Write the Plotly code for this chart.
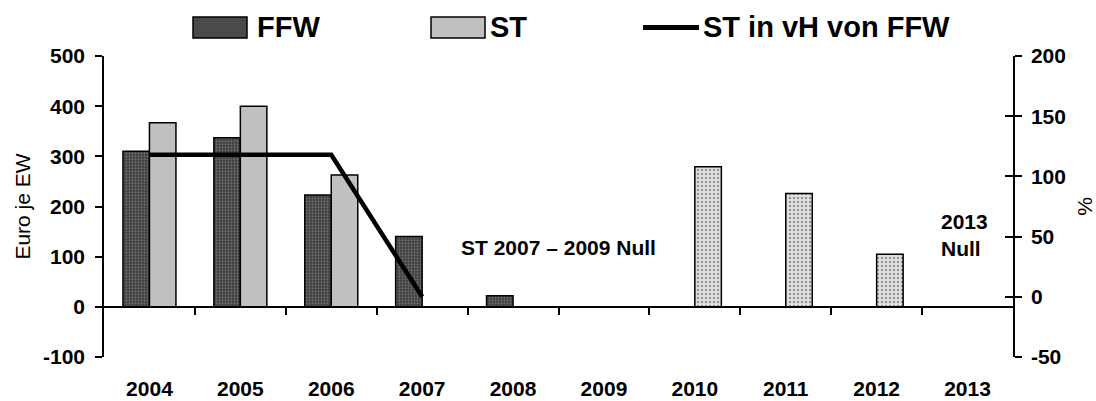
import plotly.graph_objects as go

# ---- data ----
years = ["2004", "2005", "2006", "2007", "2008", "2009", "2010", "2011", "2012", "2013"]
ffw = [310, 337, 223, 140, 22, None, None, None, None, None]          # Euro je EW
st = [367, 400, 263, None, None, None, 279, 226, 105, None]           # Euro je EW
st_pct = [118, 118, 118, 0, None, None, None, None, None, None]       # ST in vH von FFW (%)
left_ticks = [-100, 0, 100, 200, 300, 400, 500]
right_ticks = [-50, 0, 50, 100, 150, 200]

FONT = "Liberation Sans, Arial, sans-serif"
W, H = 1096, 401
L, R, T, B = 104, 83, 56, 44
PW, PH = W - L - R, H - T - B


def px_x(x):
    return (x - L) / PW


def px_y(y):
    return (H - B - y) / PH


st_colors = ["#c0c0c0", "#c0c0c0", "#c0c0c0", "#c0c0c0", "#c0c0c0", "#c0c0c0",
             "#e3e3e3", "#e3e3e3", "#e3e3e3", "#e3e3e3"]
st_shapes = ["", "", "", "", "", "", ".", ".", ".", ""]

fig = go.Figure()
fig.add_trace(go.Bar(
    x=years, y=ffw, name="FFW",
    marker=dict(color="#3a3a3a", line=dict(color="black", width=1.5),
                pattern=dict(shape=".", size=3, solidity=0.45,
                             fgcolor="#9a9a9a", bgcolor="#3a3a3a")),
    showlegend=False,
))
fig.add_trace(go.Bar(
    x=years, y=st, name="ST",
    marker=dict(color=st_colors, line=dict(color="black", width=1.5),
                pattern=dict(shape=st_shapes, size=4, solidity=0.3,
                             fgcolor="#d8d8d8", bgcolor=st_colors)),
    showlegend=False,
))
fig.add_trace(go.Scatter(
    x=years, y=st_pct, name="ST in vH von FFW", yaxis="y2",
    mode="lines", line=dict(color="black", width=4.5), showlegend=False,
))
# helper (invisible) trace so that the zero-line axis and the cross-tick axis are drawn
fig.add_trace(go.Scatter(x=[None], y=[None], xaxis="x2", yaxis="y3",
                         showlegend=False, hoverinfo="skip"))

tickfont = dict(family=FONT, size=21, color="black", weight="bold")

fig.update_layout(
    width=W, height=H,
    margin=dict(l=L, r=R, t=T, b=B, autoexpand=False),
    paper_bgcolor="white", plot_bgcolor="white",
    barmode="group", bargap=0.417, bargroupgap=0,
    font=dict(family=FONT, color="black"),
    xaxis=dict(type="category", categoryorder="array", categoryarray=years,
               showline=False, showgrid=False, zeroline=False,
               ticks="outside", ticklen=13, tickcolor="rgba(0,0,0,0)",
               tickfont=tickfont, fixedrange=True),
    xaxis2=dict(overlaying="x", anchor="free", position=100 / 600,
                range=[-0.5, len(years) - 0.5], showticklabels=False,
                tickvals=[i + 0.5 for i in range(len(years) - 1)],
                ticks="outside", ticklen=7, tickwidth=1.5, tickcolor="black",
                showline=True, linecolor="black", linewidth=1.5,
                showgrid=False, zeroline=False),
    yaxis=dict(range=[-100, 500], tickvals=left_ticks,
               ticktext=[str(v) for v in left_ticks],
               showgrid=False, zeroline=False,
               showline=True, linecolor="black", linewidth=1.5,
               ticks="outside", ticklen=7, tickwidth=1.5, tickcolor="black",
               tickfont=tickfont, ticklabelstandoff=6,
               title=dict(text="Euro je EW", standoff=7,
                          font=dict(family=FONT, size=21, color="black"))),
    yaxis2=dict(overlaying="y", side="right", anchor="x", range=[-50, 200],
                tickvals=right_ticks, ticktext=[str(v) for v in right_ticks],
                showgrid=False, zeroline=False,
                showline=True, linecolor="black", linewidth=1.5,
                ticks="outside", ticklen=7, tickwidth=1.5, tickcolor="black",
                tickfont=tickfont, ticklabelstandoff=5,
                title=dict(text="%", standoff=12,
                           font=dict(family=FONT, size=21, color="black"))),
    yaxis3=dict(overlaying="y", side="right", anchor="x", range=[-50, 200],
                tickvals=right_ticks, showgrid=False, zeroline=False,
                showline=False, showticklabels=False,
                ticks="inside", ticklen=8, tickwidth=1.5, tickcolor="black"),
)

# ---- custom legend (swatches + text) ----
leg_y0, leg_y1, leg_yc = 17, 38, 27.5
legend_font = dict(family=FONT, size=29, color="black", weight="bold")
fig.add_shape(type="rect", xref="paper", yref="paper",
              x0=px_x(193), x1=px_x(247), y0=px_y(leg_y1), y1=px_y(leg_y0),
              fillcolor="#4a4a4a", line=dict(color="black", width=1.5))
fig.add_shape(type="rect", xref="paper", yref="paper",
              x0=px_x(431), x1=px_x(485), y0=px_y(leg_y1), y1=px_y(leg_y0),
              fillcolor="#c0c0c0", line=dict(color="black", width=1.5))
fig.add_shape(type="line", xref="paper", yref="paper",
              x0=px_x(643), x1=px_x(699), y0=px_y(leg_yc), y1=px_y(leg_yc),
              line=dict(color="black", width=5))
for txt, xp in [("FFW", 255), ("ST", 488), ("ST in vH von FFW", 701)]:
    fig.add_annotation(text=txt, xref="paper", yref="paper", x=px_x(xp), y=px_y(leg_yc),
                       xanchor="left", yanchor="middle", showarrow=False, font=legend_font)

note_font = dict(family=FONT, size=21, color="black", weight="bold")
fig.add_annotation(text="ST 2007 – 2009 Null", xref="paper", yref="paper",
                   x=px_x(558), y=px_y(247), xanchor="center", yanchor="middle",
                   showarrow=False, font=note_font)
fig.add_annotation(text="2013<br>Null", xref="paper", yref="paper",
                   x=px_x(939), y=px_y(235), xanchor="left", yanchor="middle",
                   align="left", showarrow=False, font=note_font)

fig.write_html("out.html")
